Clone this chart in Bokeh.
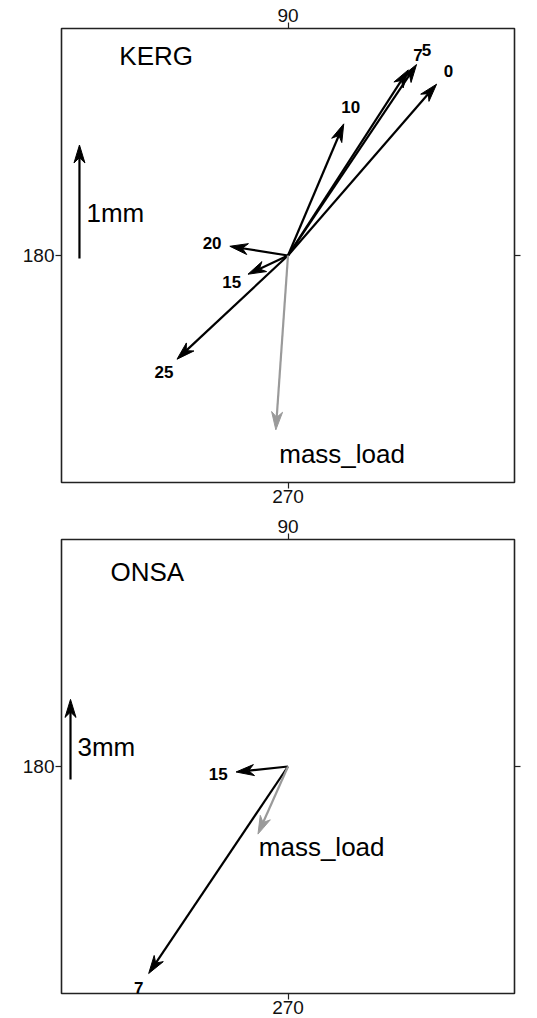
import numpy as np
from bokeh.plotting import figure
from bokeh.layouts import column
from bokeh.models import FixedTicker, LinearAxis, Label, Range1d
from bokeh.core.properties import value
from bokeh.embed import file_html
from bokeh.resources import INLINE

# Ocean-loading displacement phasors: amplitude (mm) and phase (degrees)
kerg_labels = ["0", "5", "7", "10", "15", "20", "25"]
kerg_amp = [2.00, 2.03, 1.95, 1.26, 0.39, 0.52, 1.34]
kerg_phase = [49, 56, 57, 67, 205, 171, 223]
kerg_mass_amp = 1.54
kerg_mass_phase = 266

onsa_labels = ["7", "15"]
onsa_amp = [9.35, 1.96]
onsa_phase = [236, 186]
onsa_mass_amp = 2.77
onsa_mass_phase = 246

# phase angle written at each side of the frame
side_angles = {"above": "90", "left": "180", "below": "270", "right": "0"}

FONT = "Liberation Sans"
BLACK = "#000000"
GREY = "#9a9a9a"
FIG_W = 537
BORDER_R = 23


def arrow_parts(x1, y1, ppu, head_len=18, head_half=5.5, notch=0.7):
    """Shaft end point and notched head polygon for vectors starting at the origin."""
    x1 = np.asarray(x1, float)
    y1 = np.asarray(y1, float)
    n = np.hypot(x1, y1)
    ux, uy = x1 / n, y1 / n
    px, py = -uy, ux
    L = head_len / ppu
    W = head_half / ppu
    bx, by = x1 - ux * L, y1 - uy * L
    nx, ny = x1 - ux * L * notch, y1 - uy * L * notch
    xs = [[a, b + c, d, b - c] for a, b, c, d in zip(x1, bx, px * W, nx)]
    ys = [[a, b + c, d, b - c] for a, b, c, d in zip(y1, by, py * W, ny)]
    return nx, ny, xs, ys, ux, uy


def panel(name, labels, amp, phase, mass_amp, mass_phase, scale_mm, half_range,
          height, border_top, border_bottom, border_left, name_px, bar_px):
    frame_px = FIG_W - border_left - BORDER_R
    ppu = frame_px / (2 * half_range)

    p = figure(width=FIG_W, height=height,
               x_range=Range1d(-half_range, half_range),
               y_range=Range1d(-half_range, half_range),
               output_backend="svg", toolbar_location=None,
               x_axis_location=None, y_axis_location=None,
               min_border_left=border_left, min_border_right=BORDER_R,
               min_border_top=border_top, min_border_bottom=border_bottom)
    p.grid.visible = False
    p.outline_line_color = "#222222"
    p.outline_line_width = 1.6
    p.background_fill_color = "white"
    p.border_fill_color = "white"

    for side, txt in side_angles.items():
        ax = LinearAxis(ticker=FixedTicker(ticks=[0], minor_ticks=[]),
                        major_label_overrides={0: txt if side != "right" else ""},
                        axis_line_color=None,
                        major_tick_out=6, major_tick_in=0,
                        major_tick_line_color="#222222", major_tick_line_width=1.2,
                        major_label_standoff=1,
                        major_label_text_font=FONT,
                        major_label_text_font_size="19px",
                        major_label_text_color="#111111")
        p.add_layout(ax, side)
    p.add_layout(Label(x=half_range, y=0, x_offset=17, text=side_angles["right"],
                       text_font=FONT, text_font_size="19px", text_color="#111111",
                       text_baseline="middle", text_align="left"))

    # load vectors
    th = np.radians(phase)
    ex = np.asarray(amp) * np.cos(th)
    ny = np.asarray(amp) * np.sin(th)
    sx, sy, hx, hy, ux, uy = arrow_parts(ex, ny, ppu)
    p.segment(x0=0, y0=0, x1=sx, y1=sy, line_color=BLACK, line_width=2.2)
    p.patches(hx, hy, fill_color=BLACK, line_color=BLACK, line_width=1)
    off = 18 / ppu
    p.text(x=ex + ux * off, y=ny + uy * off, text=labels,
           text_font=value(FONT), text_font_style="bold", text_font_size="17px",
           text_color=BLACK, text_align="center", text_baseline="middle")

    # mass loading vector
    mt = np.radians(mass_phase)
    mx = np.array([mass_amp * np.cos(mt)])
    my = np.array([mass_amp * np.sin(mt)])
    msx, msy, mhx, mhy, _, _ = arrow_parts(mx, my, ppu)
    p.segment(x0=0, y0=0, x1=msx, y1=msy, line_color=GREY, line_width=2.2)
    p.patches(mhx, mhy, fill_color=GREY, line_color=GREY, line_width=1)
    p.text(x=mx + 0.03, y=my - 0.135, y_offset=-6, text=["mass_load"],
           text_font=value(FONT), text_font_size="26px", text_color=BLACK,
           text_align="left", text_baseline="top")

    # station name
    p.text(x=[-half_range + name_px[0] / ppu], y=[half_range - name_px[1] / ppu],
           text=[name], text_font=value(FONT), text_font_size="26px",
           text_color=BLACK, text_align="left", text_baseline="middle")

    # scale arrow
    bx = -half_range + bar_px[0] / ppu
    by = -bar_px[1] / ppu
    ssx, ssy, shx, shy, _, _ = arrow_parts(np.array([0.0]), np.array([scale_mm]), ppu)
    p.segment(x0=[bx], y0=[by], x1=bx + ssx, y1=by + ssy, line_color=BLACK, line_width=2.2)
    p.patches([[v + bx for v in shx[0]]], [[v + by for v in shy[0]]],
              fill_color=BLACK, line_color=BLACK, line_width=1)
    p.text(x=[bx + 7 / ppu], y=[by + 0.4 * scale_mm],
           text=[f"{scale_mm:g}mm"], text_font=value(FONT), text_font_size="26px",
           text_color=BLACK, text_align="left", text_baseline="middle")
    return p


top = panel("KERG", kerg_labels, kerg_amp, kerg_phase, kerg_mass_amp, kerg_mass_phase,
            scale_mm=1, half_range=2.0, height=510, border_top=28, border_bottom=28,
            border_left=60, name_px=(58, 27), bar_px=(18, 3))
bottom = panel("ONSA", onsa_labels, onsa_amp, onsa_phase, onsa_mass_amp, onsa_mass_phase,
               scale_mm=3, half_range=8.5, height=508, border_top=29, border_bottom=25,
               border_left=61, name_px=(49, 32), bar_px=(9, 13))

layout = column(top, bottom, spacing=0)
open("out.html", "w").write(file_html(layout, INLINE))
